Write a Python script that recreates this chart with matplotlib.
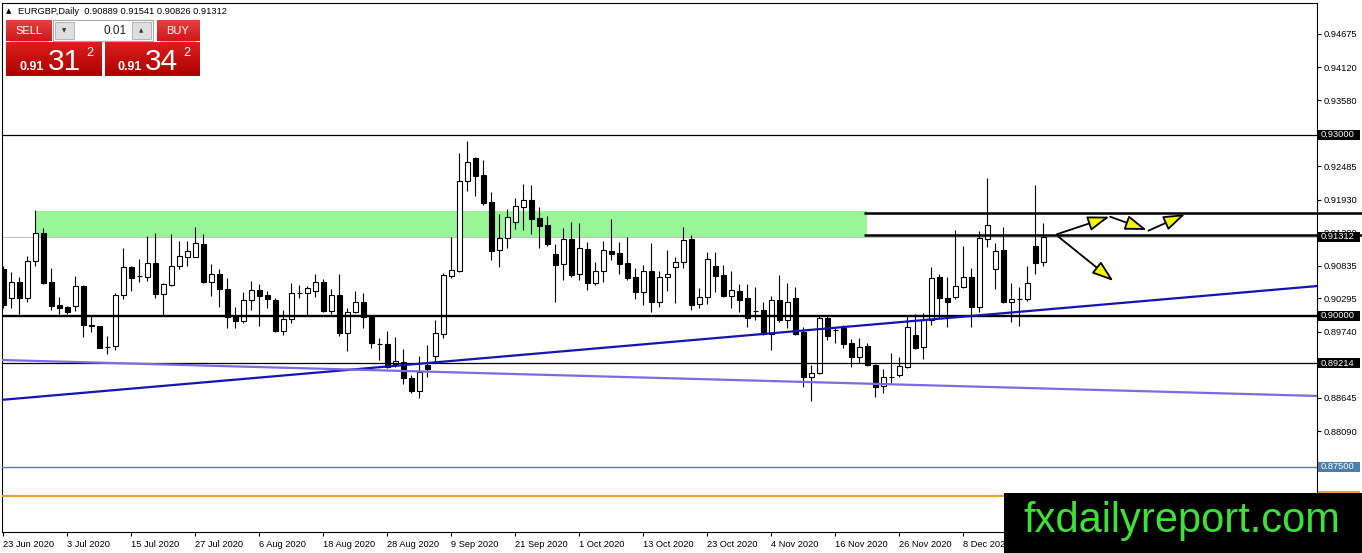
"""
EURGBP daily chart (MT4 style) with support / resistance levels,
trend lines and projected move arrows.
"""
import numpy as np
import matplotlib.pyplot as plt
from matplotlib.patches import Rectangle, FancyArrowPatch
from matplotlib.transforms import blended_transform_factory

plt.rcParams['font.family'] = ['Liberation Sans', 'DejaVu Sans']

# one bar per weekday starting 23 Jun 2020
opens = [
    0.90778, 0.90292, 0.90557, 0.90292, 0.90910, 0.91370, 0.90557, 0.90181, 0.90148, 0.90159,
    0.90496, 0.89841, 0.89832, 0.89489, 0.89506, 0.90347, 0.90816, 0.90662, 0.90650, 0.90872,
    0.90368, 0.90507, 0.90832, 0.90982, 0.90982, 0.91192, 0.90567, 0.90695, 0.90441, 0.89998,
    0.89920, 0.90259, 0.90425, 0.90347, 0.90264, 0.89755, 0.89944, 0.90385, 0.90375, 0.90418,
    0.90557, 0.90086, 0.90342, 0.89721, 0.90070, 0.90230, 0.89977, 0.89534, 0.89529, 0.89202,
    0.89240, 0.88965, 0.88759, 0.89186, 0.89340, 0.89705, 0.90667, 0.90745, 0.92237, 0.92624,
    0.92337, 0.91894, 0.91088, 0.91287, 0.91552, 0.91811, 0.91922, 0.91619, 0.91507, 0.91026,
    0.90856, 0.91270, 0.90690, 0.91109, 0.90541, 0.90740, 0.91076, 0.91038, 0.90877, 0.90640,
    0.90391, 0.90750, 0.90225, 0.90640, 0.90806, 0.90889, 0.91275, 0.90192, 0.90308, 0.90823,
    0.90678, 0.90335, 0.90413, 0.90302, 0.90081, 0.90093, 0.89695, 0.90259, 0.89932, 0.90292,
    0.89728, 0.88992, 0.89048, 0.89960, 0.89770, 0.89794, 0.89546, 0.89313, 0.89501, 0.89186,
    0.88837, 0.88992, 0.89015, 0.89157, 0.89683, 0.89479, 0.89932, 0.90640, 0.90297, 0.90308,
    0.90484, 0.90640, 0.90153, 0.91270, 0.90773, 0.91093, 0.90235, 0.90280, 0.90275, 0.91159,
    0.90889,
]
highs = [
    0.90828, 0.90723, 0.90645, 0.90993, 0.91756, 0.91458, 0.90789, 0.90308, 0.90160, 0.90667,
    0.90513, 0.90015, 0.89835, 0.89672, 0.90375, 0.91131, 0.90820, 0.90944, 0.91330, 0.91370,
    0.90541, 0.91353, 0.91242, 0.91242, 0.91479, 0.91353, 0.90861, 0.90783, 0.90624, 0.90153,
    0.90396, 0.90574, 0.90534, 0.90413, 0.90302, 0.90098, 0.90541, 0.90512, 0.90501, 0.90690,
    0.90607, 0.90441, 0.90690, 0.90126, 0.90418, 0.90385, 0.89998, 0.89638, 0.89755, 0.89655,
    0.89451, 0.89020, 0.89335, 0.89517, 0.89927, 0.90716, 0.91313, 0.92697, 0.92900, 0.92640,
    0.92585, 0.92050, 0.91695, 0.91773, 0.91950, 0.92182, 0.92171, 0.91811, 0.91662, 0.91197,
    0.91453, 0.91552, 0.91536, 0.91220, 0.90899, 0.91247, 0.91602, 0.91220, 0.91313, 0.90789,
    0.90844, 0.91204, 0.90750, 0.91093, 0.90972, 0.91479, 0.91342, 0.90468, 0.91065, 0.91055,
    0.90844, 0.90745, 0.90524, 0.90524, 0.90484, 0.90235, 0.90330, 0.90678, 0.90551, 0.90484,
    0.89821, 0.89186, 0.90003, 0.90003, 0.89821, 0.89849, 0.89612, 0.89628, 0.89546, 0.89200,
    0.89114, 0.89390, 0.89323, 0.89998, 0.90031, 0.90043, 0.90816, 0.90690, 0.90650, 0.91425,
    0.91159, 0.90789, 0.91408, 0.92282, 0.91214, 0.91469, 0.90541, 0.90484, 0.90832, 0.92171,
    0.91541,
]
lows = [
    0.90131, 0.90136, 0.90036, 0.90225, 0.90832, 0.90530, 0.90098, 0.90036, 0.90036, 0.90081,
    0.89655, 0.89738, 0.89463, 0.89373, 0.89434, 0.90280, 0.90418, 0.90557, 0.90584, 0.90292,
    0.90003, 0.90500, 0.90778, 0.90832, 0.90980, 0.90550, 0.90335, 0.90153, 0.89794, 0.89799,
    0.89887, 0.90098, 0.89837, 0.90136, 0.89738, 0.89688, 0.89877, 0.90292, 0.89998, 0.90318,
    0.90070, 0.90031, 0.89667, 0.89423, 0.90043, 0.89794, 0.89463, 0.89269, 0.89131, 0.89157,
    0.88871, 0.88726, 0.88643, 0.88992, 0.89252, 0.89628, 0.90633, 0.90733, 0.92071, 0.91993,
    0.91839, 0.90932, 0.90816, 0.91131, 0.91441, 0.91425, 0.91353, 0.91121, 0.91164, 0.90235,
    0.90600, 0.90645, 0.90595, 0.90429, 0.90512, 0.90567, 0.90927, 0.90690, 0.90595, 0.90280,
    0.90181, 0.90060, 0.90153, 0.90418, 0.90209, 0.90789, 0.90098, 0.90136, 0.90197, 0.90401,
    0.90318, 0.90136, 0.90070, 0.89821, 0.89932, 0.89683, 0.89434, 0.89904, 0.89794, 0.89683,
    0.88826, 0.88594, 0.89031, 0.89600, 0.89546, 0.89463, 0.89157, 0.89224, 0.89170, 0.88650,
    0.88726, 0.88892, 0.88982, 0.89131, 0.89446, 0.89280, 0.89849, 0.89960, 0.89821, 0.90275,
    0.90468, 0.89821, 0.90070, 0.91138, 0.90441, 0.90209, 0.89904, 0.89832, 0.90252, 0.90695,
    0.90826,
]
closes = [
    0.90181, 0.90557, 0.90292, 0.90910, 0.91370, 0.90546, 0.90169, 0.90136, 0.90070, 0.90496,
    0.89849, 0.89825, 0.89473, 0.89484, 0.90347, 0.90806, 0.90633, 0.90655, 0.90872, 0.90368,
    0.90524, 0.90828, 0.90988, 0.91076, 0.91204, 0.90567, 0.90690, 0.90441, 0.89987, 0.89920,
    0.90259, 0.90425, 0.90335, 0.90285, 0.89755, 0.89944, 0.90375, 0.90380, 0.90458, 0.90557,
    0.90086, 0.90342, 0.89721, 0.90070, 0.90230, 0.89977, 0.89546, 0.89530, 0.89148, 0.89252,
    0.88965, 0.88759, 0.89075, 0.89119, 0.89711, 0.90678, 0.90756, 0.92237, 0.92547, 0.92325,
    0.91877, 0.91076, 0.91287, 0.91640, 0.91823, 0.91922, 0.91602, 0.91496, 0.91197, 0.90844,
    0.91270, 0.90678, 0.91121, 0.90551, 0.90745, 0.91088, 0.91031, 0.90866, 0.90633, 0.90401,
    0.90750, 0.90235, 0.90650, 0.90690, 0.90889, 0.91264, 0.90181, 0.90308, 0.90944, 0.90667,
    0.90335, 0.90425, 0.90264, 0.89960, 0.90075, 0.89695, 0.90259, 0.89932, 0.90225, 0.89695,
    0.88992, 0.89048, 0.89960, 0.89672, 0.89760, 0.89529, 0.89313, 0.89489, 0.89186, 0.88826,
    0.88982, 0.88985, 0.89169, 0.89811, 0.89473, 0.89932, 0.90624, 0.90292, 0.90235, 0.90496,
    0.90640, 0.90153, 0.91287, 0.91502, 0.91071, 0.90235, 0.90275, 0.90285, 0.90551, 0.90882,
    0.91312,
]

date_bars = [0, 8, 16, 24, 32, 40, 48, 56, 64, 72, 80, 88, 96, 104, 112, 120]
date_labels = ["23 Jun 2020", "3 Jul 2020", "15 Jul 2020", "27 Jul 2020", "6 Aug 2020",
               "18 Aug 2020", "28 Aug 2020", "9 Sep 2020", "21 Sep 2020", "1 Oct 2020",
               "13 Oct 2020", "23 Oct 2020", "4 Nov 2020", "16 Nov 2020", "26 Nov 2020",
               "8 Dec 2020"]
price_ticks = [0.94675, 0.94120, 0.93580, 0.92485, 0.91930, 0.91380, 0.90835,
               0.90295, 0.89740, 0.88645, 0.88090]

# drawn objects
zone_bars = [3.96, 107.9]          # green supply zone
zone_prices = [0.91309, 0.91740]
level_thin = [0.93000, 0.89214]
level_thick = 0.90000
level_blue = 0.87500
level_orange = 0.87012
bid = 0.91312
channel_start = 107.6
channel_prices = [0.91701, 0.91342]
trend_blue = ([-0.41, 164.3], [0.88605, 0.90496])
trend_purple = ([-0.41, 164.3], [0.89269, 0.88672])
arrows = [((131.67, 0.91353), (138.25, 0.91645)),
          ((138.34, 0.91645), (142.92, 0.91425)),
          ((143.13, 0.91413), (147.71, 0.91685)),
          ((131.88, 0.91313), (138.75, 0.90579))]

W, H = 1362, 553
fig = plt.figure(figsize=(W / 100, H / 100), dpi=100)
ax = fig.add_axes([2 / W, 21 / H, 1315 / W, 529 / H])
ax.set_xlim(-0.1625, 164.2)
ax.set_ylim(0.86416, 0.95189)
for sp in ax.spines.values():
    sp.set_linewidth(0.8)
    sp.set_color('black')

# candles
x = np.arange(len(opens))
o, h, l, c = map(np.array, (opens, highs, lows, closes))
up = c >= o
ax.vlines(x, l, h, color='black', lw=0.8, zorder=3)
ax.bar(x[up], c[up] - o[up], bottom=o[up], width=0.62, facecolor='white',
       edgecolor='black', lw=0.8, zorder=4)
ax.bar(x[~up], o[~up] - c[~up], bottom=c[~up], width=0.62, facecolor='black',
       edgecolor='black', lw=0.8, zorder=4)

# zone and levels
ax.axhline(bid, color='#c0c0c0', lw=0.8, zorder=0.5)
ax.add_patch(Rectangle((zone_bars[0], zone_prices[0]), zone_bars[1] - zone_bars[0],
                       zone_prices[1] - zone_prices[0], facecolor='#98f598',
                       edgecolor='none', zorder=1))
for lv in level_thin:
    ax.axhline(lv, color='black', lw=0.9, zorder=5)
ax.axhline(level_thick, color='black', lw=1.7, zorder=5)
ax.axhline(level_blue, color='#4a7fab', lw=1.0, zorder=5)
ax.axhline(level_orange, color='#e5a233', lw=1.5, zorder=5)
for p in channel_prices:
    ax.plot([channel_start, 170], [p, p], color='black', lw=1.8, zorder=5,
            clip_on=False, solid_capstyle='butt')
ax.plot(*trend_blue, color='#1414b4', lw=1.6, zorder=5)
ax.plot(*trend_purple, color='#7b6ae0', lw=1.6, zorder=5)

for a, b in arrows:
    ax.add_patch(FancyArrowPatch(a, b, arrowstyle='-|>,head_length=1.1,head_width=0.38',
                                 mutation_scale=12, fc='#f5f500', ec='black', lw=1.3,
                                 shrinkA=0, shrinkB=0, zorder=6))

# axes ticks
ax.yaxis.tick_right()
ax.set_yticks(price_ticks)
ax.set_yticklabels([f'{t:.5f}' for t in price_ticks])
ax.tick_params(axis='y', length=3, width=0.8, pad=2, labelsize=6.7)
ax.set_xticks(date_bars)
ax.set_xticklabels(date_labels)
for lbl in ax.get_xticklabels():
    lbl.set_ha('left')
ax.tick_params(axis='x', length=3, width=0.8, pad=2.5, labelsize=6.7)

# price tags on the right scale
trans = blended_transform_factory(ax.transAxes, ax.transData)
tags = [(0.93000, 'black'), (bid, 'black'), (0.90000, 'black'), (0.89214, 'black'),
        (level_blue, '#4a7fab'), (level_orange, '#e5a233')]
for p, col in tags:
    ax.add_patch(Rectangle((1 + 1 / 1315, p - 0.00083), 42 / 1315, 0.00166,
                           transform=trans, facecolor=col, edgecolor='none',
                           clip_on=False, zorder=7))
    ax.text(1 + 4 / 1315, p, f'{p:.5f}', transform=trans, color='white',
            fontsize=6.7, va='center', ha='left', zorder=8, clip_on=False)

# overlay in pixel units: header, trade panel, logo
ov = fig.add_axes([0, 0, 1, 1], zorder=10)
ov.axis('off')


def red_block(x0, y0, x1, y1, top, bottom):
    g = np.linspace(0, 1, 32)[:, None, None]
    img = (1 - g) * np.array(top) + g * np.array(bottom)
    ov.imshow(img, extent=[x0, x1, y1, y0], aspect='auto', zorder=1,
              interpolation='bilinear')


ov.text(6, 11, '\u25b2', fontsize=5, va='center', ha='left', family='DejaVu Sans')
ov.text(18, 11, 'EURGBP,Daily  0.90889 0.91541 0.90826 0.91312', fontsize=6.7,
        va='center', ha='left')

red_block(6, 20.5, 52, 41.5, (0.90, 0.25, 0.25), (0.80, 0.10, 0.10))
red_block(156.5, 20.5, 199, 41.5, (0.90, 0.25, 0.25), (0.80, 0.10, 0.10))
ov.plot([10, 48], [40.5, 40.5], color='#f0a0a0', lw=0.7, zorder=2)
ov.plot([160, 195], [40.5, 40.5], color='#f0a0a0', lw=0.7, zorder=2)
ov.text(29, 31, 'SELL', color='white', fontsize=8, ha='center', va='center', zorder=3)
ov.text(178, 31, 'BUY', color='white', fontsize=8, ha='center', va='center', zorder=3)

ov.add_patch(Rectangle((52.5, 20), 100, 20.5, facecolor='white', edgecolor='#a8a8a8',
                       lw=0.8, zorder=2))
for bx, sym in ((54.5, '\u25bc'), (131.5, '\u25b2')):
    ov.add_patch(Rectangle((bx, 22), 19.5, 17, facecolor='#dedede', edgecolor='#b4b4b4',
                           lw=0.7, zorder=3))
    ov.text(bx + 9.75, 30.5, sym, fontsize=4, ha='center', va='center', zorder=4,
            family='DejaVu Sans', color='#303030')
ov.text(127, 30.5, '0.01', fontsize=8.5, ha='right', va='center', zorder=4,
        color='#202020')

for px0, px1, big, sx in ((6, 101.5, '31', 20), (104.5, 199, '34', 117)):
    red_block(px0, 42.5, px1, 76, (0.86, 0.12, 0.12), (0.68, 0.0, 0.0))
    ov.text(sx, 70, '0.91', color='white', fontsize=9, fontweight='bold',
            ha='left', va='baseline', zorder=3)
    ov.text(sx + 28, 70, big, color='white', fontsize=21.5, ha='left',
            va='baseline', zorder=3)
    ov.text(sx + 66, 56, '2', color='white', fontsize=9, ha='left',
            va='baseline', zorder=3)

ov.add_patch(Rectangle((1004, 493), W - 1004, H - 493, facecolor='black',
                       edgecolor='none', zorder=5))
ov.text(1182, 532, 'fxdailyreport.com', color='#3ee03a', fontsize=30, ha='center',
        va='baseline', zorder=6)

ov.set_xlim(0, W)
ov.set_ylim(H, 0)

fig.savefig('out.png', dpi=100)
